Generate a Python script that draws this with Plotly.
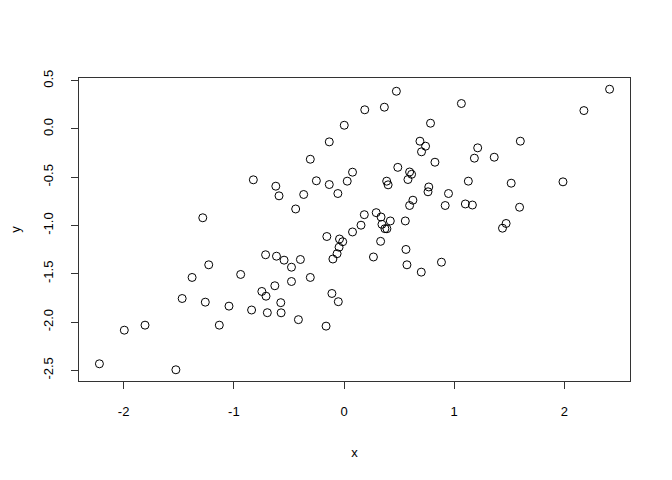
import plotly.graph_objects as go

x_vals = [
    -2.220, -1.994, -1.806, -1.526, -1.469, -1.379, -1.228, -1.259, -1.132, -1.044,
    -0.938, -0.839, -0.746, -0.708, -0.712, -0.696, -0.823, -1.282, 0.475, 0.188,
    0.366, 0.002, -0.134, -0.306, 0.488, -0.619, -0.590, -0.251, -0.134, 0.077,
    0.029, -0.056, -0.366, -0.439, 0.387, 0.400, 0.184, 0.292, 0.336, 0.420,
    0.344, 0.371, 0.389, 0.154, 0.077, -0.156, -0.041, -0.012, -0.045, -0.063,
    -0.101, 0.332, 0.267, -0.613, -0.544, -0.396, -0.477, -0.306, -0.477, -0.628,
    -0.110, -0.052, -0.574, -0.571, -0.414, -0.163, 1.065, 0.785, 0.689, 0.740,
    0.703, 1.213, 1.183, 1.363, 1.600, 0.825, 0.595, 0.613, 0.580, 1.128,
    1.517, 0.769, 0.762, 0.948, 0.625, 0.595, 0.918, 1.101, 1.165, 1.593,
    0.556, 1.471, 1.438, 0.562, 0.571, 0.701, 0.884, 1.987, 2.410, 2.177,
]
y_vals = [
    -2.432, -2.084, -2.032, -2.494, -1.756, -1.538, -1.407, -1.794, -2.032, -1.835,
    -1.507, -1.875, -1.683, -1.732, -1.303, -1.903, -0.527, -0.920, 0.390, 0.198,
    0.225, 0.038, -0.134, -0.314, -0.398, -0.593, -0.693, -0.537, -0.576, -0.448,
    -0.541, -0.669, -0.679, -0.829, -0.541, -0.579, -0.888, -0.867, -0.912, -0.953,
    -0.988, -1.033, -1.034, -0.997, -1.067, -1.114, -1.140, -1.168, -1.225, -1.292,
    -1.347, -1.164, -1.326, -1.318, -1.359, -1.352, -1.432, -1.538, -1.580, -1.624,
    -1.704, -1.789, -1.799, -1.904, -1.975, -2.042, 0.263, 0.059, -0.127, -0.179,
    -0.237, -0.196, -0.303, -0.293, -0.127, -0.345, -0.446, -0.470, -0.524, -0.541,
    -0.562, -0.601, -0.651, -0.669, -0.738, -0.793, -0.793, -0.777, -0.788, -0.811,
    -0.953, -0.979, -1.028, -1.248, -1.407, -1.483, -1.380, -0.548, 0.411, 0.190,
]

x_ticks = [-2, -1, 0, 1, 2]
y_ticks = [-2.5, -2.0, -1.5, -1.0, -0.5, 0.0, 0.5]
y_tick_text = ["-2.5", "-2.0", "-1.5", "-1.0", "-0.5", "0.0", "0.5"]


def r_range(v):
    lo, hi = min(v), max(v)
    pad = 0.04 * (hi - lo)
    return [lo - pad, hi + pad]


font = dict(family="Liberation Sans, Arial, sans-serif", size=13, color="black")

fig = go.Figure(
    go.Scatter(
        x=x_vals,
        y=y_vals,
        mode="markers",
        marker=dict(symbol="circle-open", size=8, color="black",
                    line=dict(width=1, color="black")),
        hoverinfo="x+y",
    )
)

# page body has an 8px default margin, so the figure is 8px smaller
fig.update_layout(
    width=664,
    height=472,
    margin=dict(l=71, r=42, t=70, b=99, autoexpand=False),
    paper_bgcolor="white",
    plot_bgcolor="white",
    showlegend=False,
    font=font,
    xaxis=dict(
        range=r_range(x_vals),
        tickmode="array",
        tickvals=x_ticks,
        ticktext=[str(t) for t in x_ticks],
        ticks="outside",
        ticklen=7,
        tickwidth=1,
        tickcolor="#333333",
        showgrid=False,
        zeroline=False,
        showline=True,
        mirror=True,
        linecolor="#333333",
        linewidth=1,
        automargin=False,
        title=dict(text="x", standoff=30, font=font),
        tickfont=font,
        ticklabelstandoff=11,
    ),
    yaxis=dict(
        range=r_range(y_vals),
        tickmode="array",
        tickvals=y_ticks,
        ticktext=y_tick_text,
        tickangle=-90,
        ticks="outside",
        ticklen=7,
        tickwidth=1,
        tickcolor="#333333",
        showgrid=False,
        zeroline=False,
        showline=True,
        mirror=True,
        linecolor="#333333",
        linewidth=1,
        automargin=False,
        title=dict(text="y", standoff=24, font=font),
        tickfont=font,
        ticklabelstandoff=13,
    ),
)

fig.write_html("out.html")
